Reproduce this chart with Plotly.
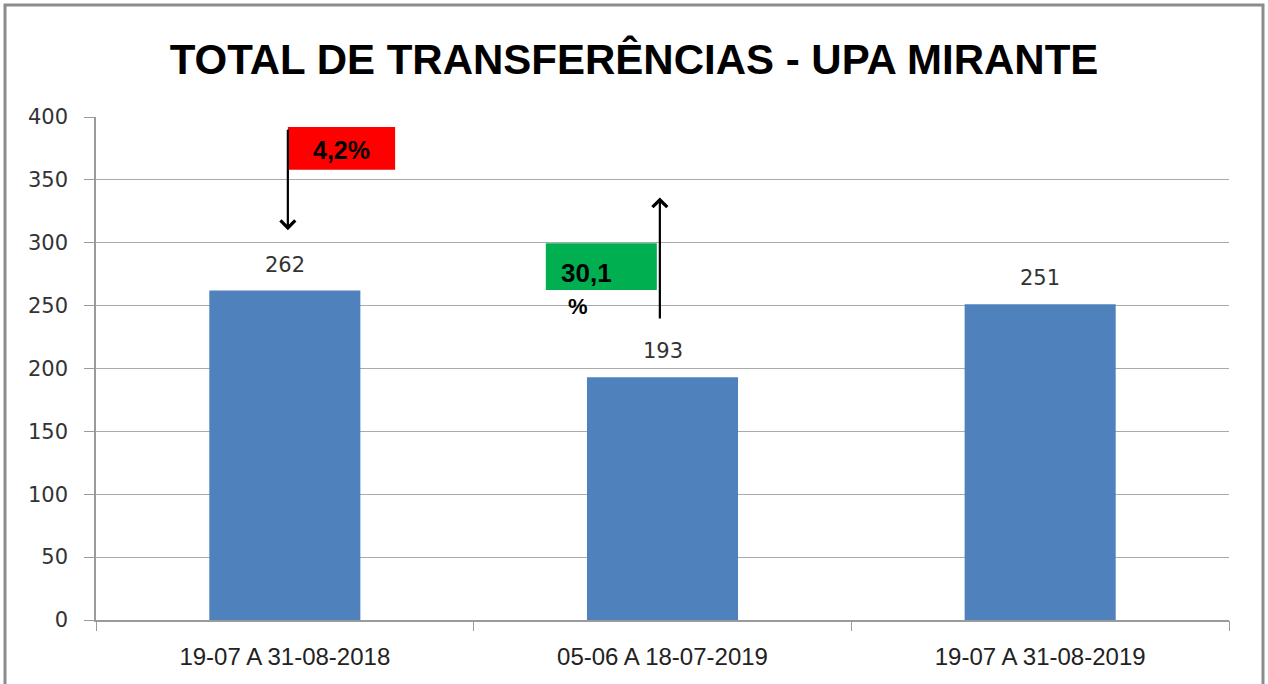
import plotly.graph_objects as go

categories = ["19-07 A 31-08-2018", "05-06 A 18-07-2019", "19-07 A 31-08-2019"]
values = [262, 193, 251]
title_text = "TOTAL DE TRANSFERÊNCIAS - UPA MIRANTE"
y_ticks = [0, 50, 100, 150, 200, 250, 300, 350, 400]
change_down = "4,2%"
change_up_num = "30,1"
change_up_pct = "%"

W, H = 1268, 684
ML, MR, MT, MB = 96, 39, 117, 64

fig = go.Figure()
fig.add_trace(go.Bar(
    x=list(range(len(categories))), y=values,
    marker=dict(color="#4f81bd", line=dict(width=0)),
    width=0.40, hoverinfo="skip",
))

annotations = []
for i, v in enumerate(values):
    annotations.append(dict(x=i, y=v, xref="x", yref="y", text=str(v), showarrow=False,
                            yanchor="bottom", yshift=12,
                            font=dict(family="DejaVu Sans", size=21, color="#333333")))

# red box label and down arrow
shapes = []
shapes.append(dict(type="rect", xref="x", yref="y", x0=0.008, x1=0.292, y0=358, y1=392,
                   fillcolor="#ff0000", line=dict(width=0), layer="above"))
annotations.append(dict(x=0.15, y=374, xref="x", yref="y", text="<b>" + change_down + "</b>",
                        showarrow=False, font=dict(family="Liberation Sans", size=25, color="#000000")))
annotations.append(dict(x=0.008, y=310, xref="x", yref="y", ax=0.008, ay=391, axref="x", ayref="y",
                        text="", showarrow=True, arrowhead=4, arrowsize=1.3, arrowwidth=2.2,
                        arrowcolor="#000000"))

# green box label and up arrow
shapes.append(dict(type="rect", xref="x", yref="y", x0=0.691, x1=0.985, y0=262.5, y1=299.7,
                   fillcolor="#00b050", line=dict(width=0), layer="above"))
annotations.append(dict(x=0.80, y=276, xref="x", yref="y", text="<b>" + change_up_num + "</b>",
                        showarrow=False, font=dict(family="Liberation Sans", size=26, color="#000000")))
annotations.append(dict(x=0.776, y=249, xref="x", yref="y", text="<b>" + change_up_pct + "</b>",
                        showarrow=False, font=dict(family="Liberation Sans", size=22, color="#000000")))
annotations.append(dict(x=0.993, y=336, xref="x", yref="y", ax=0.993, ay=238.5, axref="x", ayref="y",
                        text="", showarrow=True, arrowhead=4, arrowsize=1.3, arrowwidth=2.2,
                        arrowcolor="#000000"))

# outer frame
pw = W - ML - MR
ph = H - MT - MB
shapes.append(dict(type="rect", xref="paper", yref="paper",
                   x0=(5 - ML) / pw, x1=(1263 - ML) / pw,
                   y0=(H - MB - 690) / ph, y1=(H - MB - 5) / ph,
                   line=dict(color="#8c8c8c", width=3), fillcolor="rgba(0,0,0,0)", layer="below"))

fig.update_layout(
    width=W, height=H,
    margin=dict(l=ML, r=MR, t=MT, b=MB),
    paper_bgcolor="#ffffff", plot_bgcolor="#ffffff",
    showlegend=False,
    title=dict(text="<b>" + title_text + "</b>", x=0.5, xref="container", xanchor="center",
               y=1 - 59 / H, yref="container", yanchor="middle",
               font=dict(family="Liberation Sans", size=42, color="#000000")),
    annotations=annotations,
    shapes=shapes,
    xaxis=dict(
        range=[-0.5, 2.5], tickmode="array", tickvals=list(range(len(categories))),
        ticktext=categories, showgrid=False, zeroline=False,
        showline=True, linecolor="#9a9a9a", linewidth=1.5,
        ticks="", tickfont=dict(family="Liberation Sans", size=24, color="#222222"),
        ticklabelstandoff=14, fixedrange=True,
    ),
    yaxis=dict(
        range=[0, 400], tickmode="array", tickvals=y_ticks,
        showgrid=True, gridcolor="#aaaaaa", gridwidth=1.2, zeroline=False,
        showline=True, linecolor="#9a9a9a", linewidth=1.5,
        ticks="outside", ticklen=10, tickcolor="#9a9a9a", tickwidth=1.2,
        tickfont=dict(family="DejaVu Sans", size=21, color="#333333"),
        ticklabelstandoff=12, fixedrange=True,
    ),
)

# boundary tick marks on the category axis
fig.add_trace(go.Scatter(x=categories, y=[None] * 3, xaxis="x2", yaxis="y", showlegend=False,
                         hoverinfo="skip"))
fig.update_layout(xaxis2=dict(type="category", overlaying="x", side="bottom", range=[-0.5, 2.5],
                              tickson="boundaries", ticks="outside", ticklen=10, tickcolor="#9a9a9a",
                              tickwidth=1.2, showticklabels=False, showgrid=False, zeroline=False,
                              showline=False, fixedrange=True))

fig.write_html("out.html", config={"displayModeBar": False},
               post_script="document.body.style.margin='0';")
